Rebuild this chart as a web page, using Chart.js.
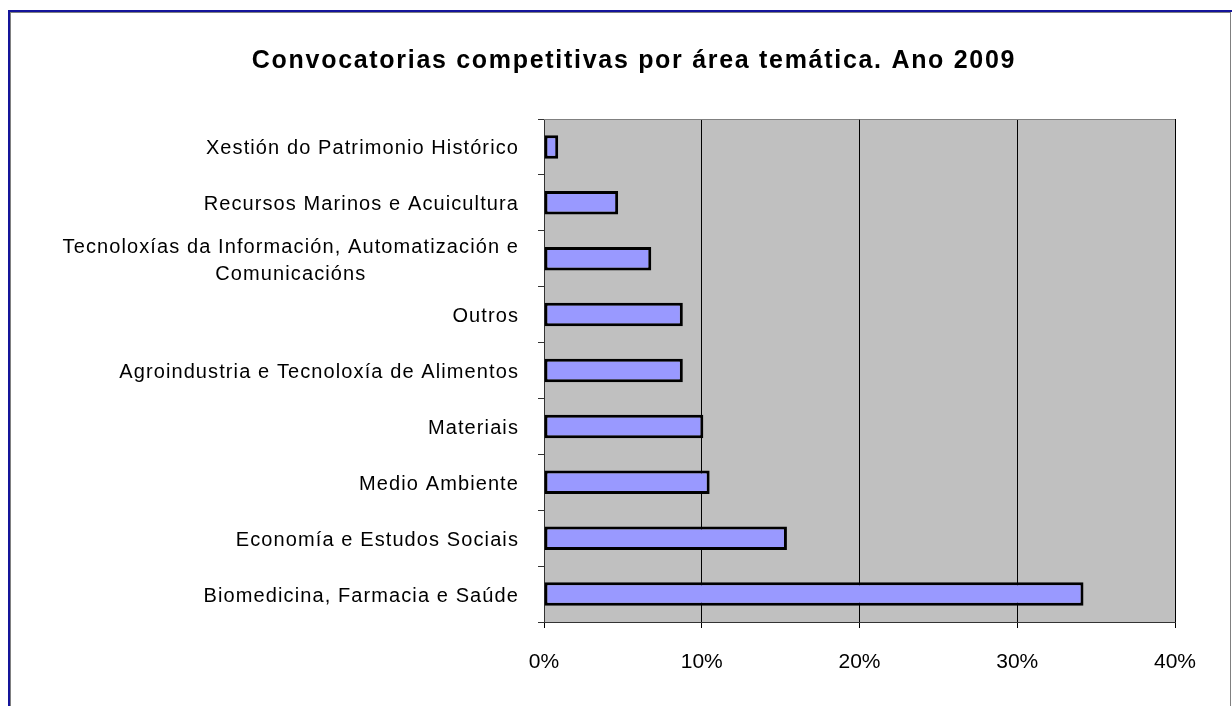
<!DOCTYPE html>
<html><head><meta charset="utf-8">
<script src="https://cdn.jsdelivr.net/npm/chart.js@4/dist/chart.umd.min.js"></script>
<style>
html,body{margin:0;padding:0;background:#fff;overflow:hidden}
#wrap{position:relative;width:1232px;height:706px}
#frame{position:absolute;left:8px;top:10px;width:1240px;height:720px;border-left:2px solid #14149a;border-top:2px solid #14149a;pointer-events:none}
#frame2{position:absolute;left:10px;top:12px;width:1219px;height:720px;border-left:1px solid #808080;border-top:1px solid #808080;border-right:1px solid #808080;pointer-events:none}
canvas{position:absolute;left:0;top:0}
</style></head>
<body>
<div id="wrap">
<canvas id="c" width="1232" height="706"></canvas>
<div id="frame"></div><div id="frame2"></div>
</div>
<script>
const categories = [
  "Xestión do Patrimonio Histórico",
  "Recursos Marinos e Acuicultura",
  ["Tecnoloxías da Información, Automatización e", "Comunicacións"],
  "Outros",
  "Agroindustria e Tecnoloxía de Alimentos",
  "Materiais",
  "Medio Ambiente",
  "Economía e Estudos Sociais",
  "Biomedicina, Farmacia e Saúde"
];
const values = [0.9, 4.7, 6.8, 8.8, 8.8, 10.1, 10.5, 15.4, 34.2];
const xTickValues = [0, 10, 20, 30, 40];
const xTickLabels = ["0%", "10%", "20%", "30%", "40%"];
const titleText = "Convocatorias competitivas por área temática. Ano 2009";

const FONT = "'Liberation Sans', Arial, sans-serif";

const plotBg = {
  id: 'plotBg',
  beforeDraw(chart) {
    const {ctx, chartArea: a} = chart;
    ctx.save();
    ctx.fillStyle = '#c0c0c0';
    ctx.fillRect(a.left, a.top, a.right - a.left, a.bottom - a.top);
    ctx.restore();
  },
  beforeDatasetsDraw(chart) {
    const {ctx, chartArea: a} = chart;
    ctx.save();
    ctx.strokeStyle = '#808080';
    ctx.lineWidth = 1;
    ctx.beginPath();
    ctx.moveTo(a.left, a.top + 0.5);
    ctx.lineTo(a.right, a.top + 0.5);
    ctx.stroke();
    ctx.restore();
  }
};

const titleDraw = {
  id: 'titleDraw',
  afterDraw(chart) {
    const {ctx} = chart;
    ctx.save();
    ctx.font = "bold 25px " + FONT;
    ctx.fillStyle = '#000';
    ctx.textAlign = 'center';
    ctx.textBaseline = 'alphabetic';
    try { ctx.letterSpacing = '1.7px'; } catch (e) {}
    ctx.fillText(titleText, 634, 68);
    ctx.restore();
  }
};

const yLabels = {
  id: 'yLabels',
  afterDraw(chart) {
    const {ctx} = chart;
    const ys = chart.scales.y;
    ctx.save();
    ctx.font = "20px " + FONT;
    ctx.fillStyle = '#000';
    ctx.textBaseline = 'middle';
    ctx.textAlign = 'center';
    try { ctx.letterSpacing = '1.1px'; } catch (e) {}
    const rightEdge = ys.right - 25;
    categories.forEach((lab, i) => {
      const lines = Array.isArray(lab) ? lab : [lab];
      const w = Math.max(...lines.map(l => ctx.measureText(l).width));
      const cx = rightEdge - w / 2;
      const yc = ys.getPixelForValue(i) + 2;
      const lh = 27;
      lines.forEach((l, k) => {
        ctx.fillText(l, cx, yc + (k - (lines.length - 1) / 2) * lh);
      });
    });
    ctx.restore();
  }
};

new Chart(document.getElementById('c'), {
  type: 'bar',
  data: {
    labels: categories,
    datasets: [{
      data: values,
      backgroundColor: '#9999ff',
      borderColor: '#000',
      borderWidth: 3,
      borderSkipped: false,
      barPercentage: 0.42,
      categoryPercentage: 1
    }]
  },
  options: {
    indexAxis: 'y',
    responsive: false,
    animation: false,
    events: [],
    layout: { padding: { left: 34, right: 57, top: 119, bottom: 9.8 } },
    plugins: {
      legend: { display: false },
      tooltip: { enabled: false },
      title: { display: false }
    },
    scales: {
      x: {
        min: 0, max: 40,
        afterBuildTicks(s) { s.ticks = xTickValues.map(v => ({ value: v })); },
        ticks: {
          color: '#000',
          font: { family: FONT, size: 21 },
          padding: 21.5,
          callback: (v, i) => xTickLabels[i]
        },
        grid: { color: '#000', lineWidth: 1, tickLength: 6, drawTicks: true },
        border: { color: '#333', width: 1 }
      },
      y: {
        afterFit(s) { s.width = 510; },
        ticks: { color: 'rgba(0,0,0,0)', font: { family: FONT, size: 20 } },
        grid: { drawOnChartArea: false, color: '#333', tickLength: 6, offset: true },
        border: { color: '#333', width: 1 }
      }
    }
  },
  plugins: [plotBg, yLabels, titleDraw]
});
</script>
</body></html>
